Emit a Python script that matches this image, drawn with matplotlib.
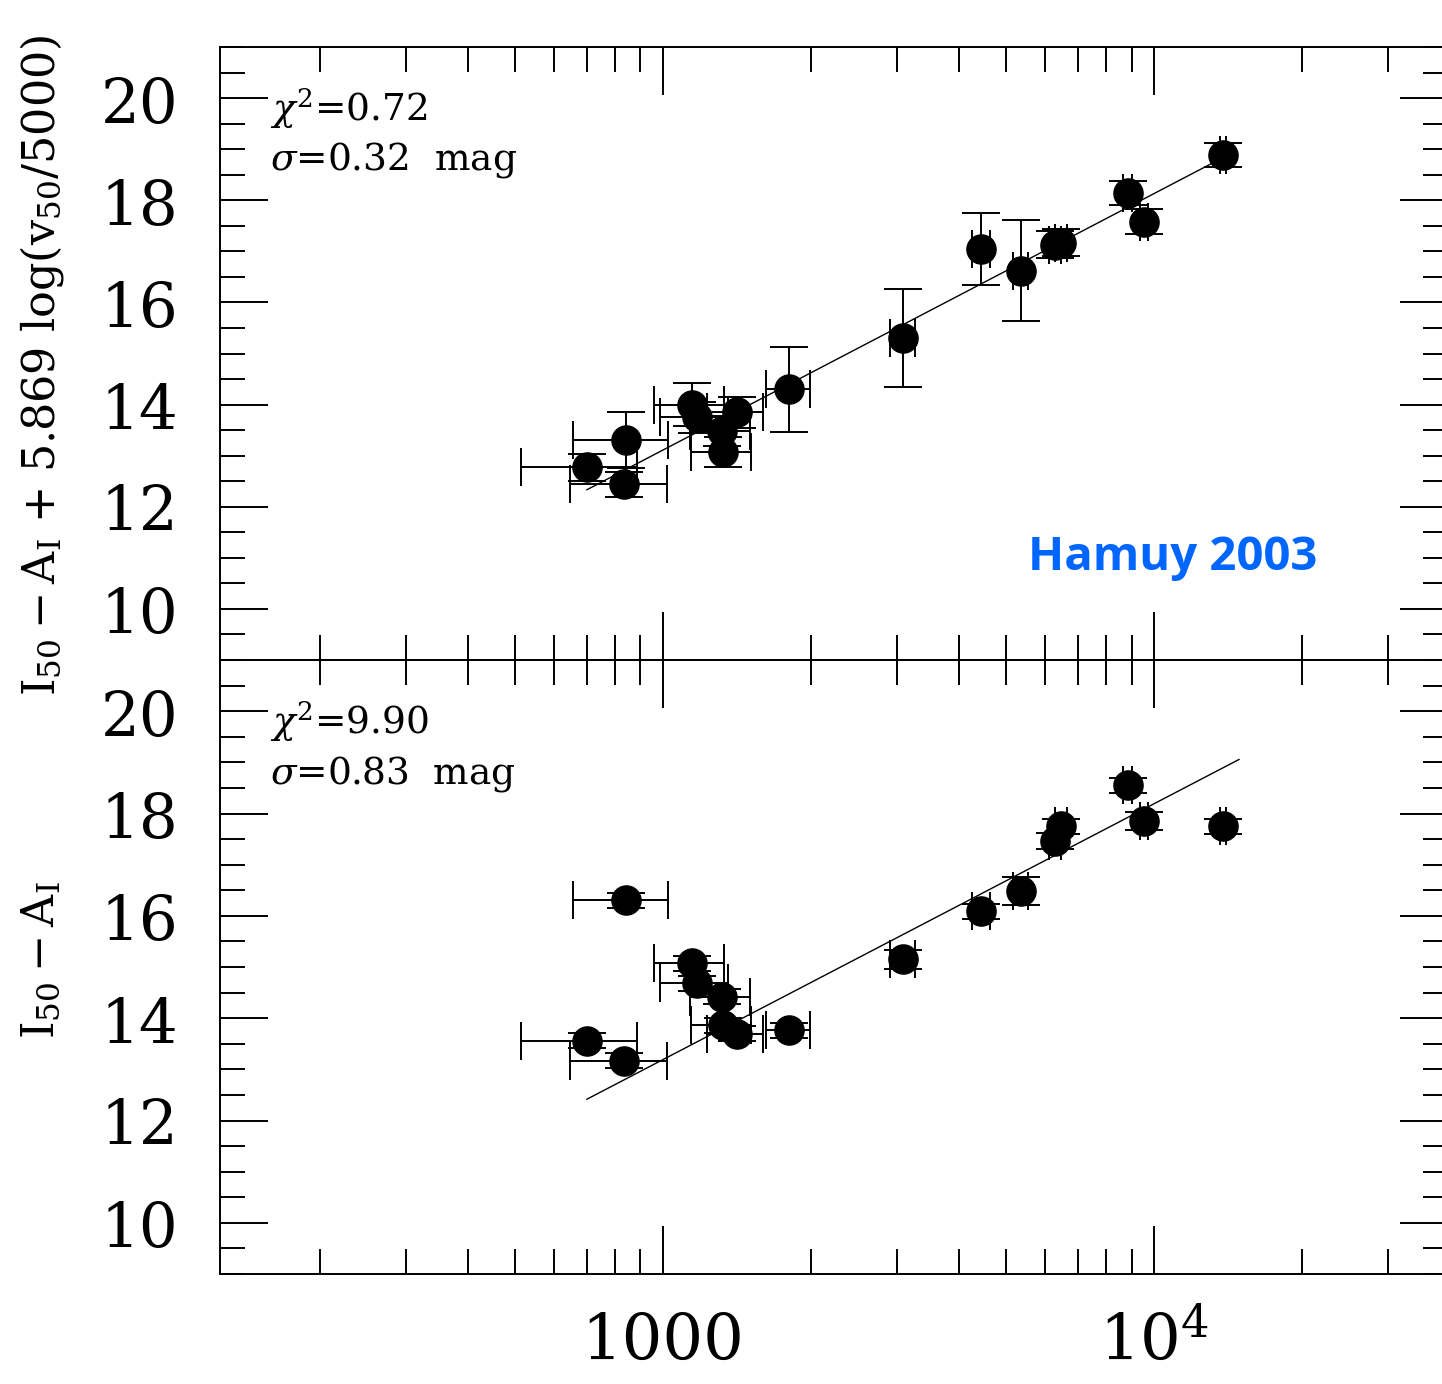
import numpy as np
import matplotlib
matplotlib.use("Agg")
import matplotlib.pyplot as plt
from matplotlib.ticker import LogLocator, MultipleLocator, FuncFormatter, NullFormatter

plt.rcParams['font.family'] = ['DejaVu Serif']
plt.rcParams['mathtext.fontset'] = 'dejavuserif'

# Host-galaxy recession velocity (km/s) and its uncertainty
cz = [700, 841, 833, 1146, 1173, 1319, 1325, 1415, 1806, 3082,
      4443, 5359, 6285, 6464, 8851, 9541, 13820]
cz_err = [185] * len(cz)

# Top: velocity-corrected magnitude I50 - A_I + 5.869 log(v50/5000)
mag_corr = [12.77, 13.30, 12.44, 14.00, 13.75, 13.48, 13.07, 13.85, 14.30, 15.31,
            17.05, 16.62, 17.13, 17.17, 18.14, 17.58, 18.89]
mag_corr_err = [0.27, 0.55, 0.25, 0.42, 0.30, 0.30, 0.30, 0.30, 0.83, 0.96,
                0.70, 0.99, 0.27, 0.27, 0.24, 0.25, 0.23]

# Bottom: uncorrected magnitude I50 - A_I
mag_raw = [13.56, 16.30, 13.17, 15.07, 14.68, 14.42, 13.86, 13.70, 13.76, 15.15,
           16.09, 16.48, 17.46, 17.75, 18.55, 17.85, 17.75]
mag_raw_err = [0.15, 0.15, 0.15, 0.15, 0.15, 0.15, 0.15, 0.15, 0.15, 0.18,
               0.15, 0.27, 0.15, 0.15, 0.15, 0.18, 0.15]

# Hubble-line fits: m = zp + slope * (log10(cz) - 3)
fit_top = dict(zp=13.11, slope=5.02, cz_range=(700, 13820))
fit_bot = dict(zp=13.19, slope=5.00, cz_range=(700, 14900))

stats_top = [r'$\chi^2$=0.72', r'$\sigma$=0.32  mag']
stats_bot = [r'$\chi^2$=9.90', r'$\sigma$=0.83  mag']

W, H = 1442, 1384
fig = plt.figure(figsize=(W / 100, H / 100), dpi=100)
ax_top = fig.add_axes([220 / W, 1 - 660 / H, 1228 / W, 613 / H])
ax_bot = fig.add_axes([220 / W, 1 - 1274 / H, 1228 / W, 614 / H], sharex=ax_top)


def style_axis(ax):
    ax.set_xscale('log')
    ax.set_xlim(125.3, 39700)
    ax.set_ylim(9, 21)
    ax.yaxis.set_major_locator(MultipleLocator(2))
    ax.yaxis.set_minor_locator(MultipleLocator(0.5))
    ax.xaxis.set_major_locator(LogLocator(base=10))
    ax.xaxis.set_minor_locator(LogLocator(base=10, subs=np.arange(2, 10)))
    ax.tick_params(which='both', direction='in', top=True, right=True, width=1.4)
    ax.tick_params(which='major', length=34.5)
    ax.tick_params(which='minor', length=18)
    ax.tick_params(axis='y', which='major', labelsize=44, pad=30)
    ax.tick_params(axis='x', which='major', labelsize=46, pad=27)
    for s in ax.spines.values():
        s.set_linewidth(1.4)


def draw_panel(ax, y, yerr, fit, stats):
    # error bars first, filled circles on top of them
    ax.errorbar(cz, y, xerr=cz_err, yerr=yerr, fmt='none', ecolor='black',
                elinewidth=1.4, capsize=14, capthick=1.4, zorder=2)
    ax.plot(cz, y, 'o', color='black', ms=21, zorder=3)
    lx = np.array(fit['cz_range'], dtype=float)
    ly = fit['zp'] + fit['slope'] * (np.log10(lx) - 3)
    ax.plot(lx, ly, color='black', lw=1.0, zorder=2)
    ax.text(0.041, 0.900, stats[0], transform=ax.transAxes, fontsize=27,
            ha='left', va='center')
    ax.text(0.041, 0.815, stats[1], transform=ax.transAxes, fontsize=27,
            ha='left', va='center')


style_axis(ax_top)
style_axis(ax_bot)
draw_panel(ax_top, mag_corr, mag_corr_err, fit_top, stats_top)
draw_panel(ax_bot, mag_raw, mag_raw_err, fit_bot, stats_bot)

ax_top.xaxis.set_major_formatter(NullFormatter())
ax_top.xaxis.set_minor_formatter(NullFormatter())
ax_bot.xaxis.set_minor_formatter(NullFormatter())


def xfmt(v, pos):
    if abs(v - 1000) < 1:
        return '1000'
    if abs(v - 10000) < 1:
        return r'$10^4$'
    return ''


ax_bot.xaxis.set_major_formatter(FuncFormatter(xfmt))

fig.text(42 / W, 1 - 365 / H,
         r'$\mathrm{I_{50}-A_I}$ + 5.869 log($\mathrm{v_{50}}$/5000)',
         rotation=90, ha='center', va='center', fontsize=32)
fig.text(42 / W, 1 - 960 / H, r'$\mathrm{I_{50}-A_I}$',
         rotation=90, ha='center', va='center', fontsize=32)

ax_top.text(0.658, 0.147, 'Hamuy 2003', transform=ax_top.transAxes,
            fontsize=34, fontweight='bold', color='#0066ff',
            family='Open Sans', ha='left', va='baseline')

fig.savefig('out.png', dpi=100)
